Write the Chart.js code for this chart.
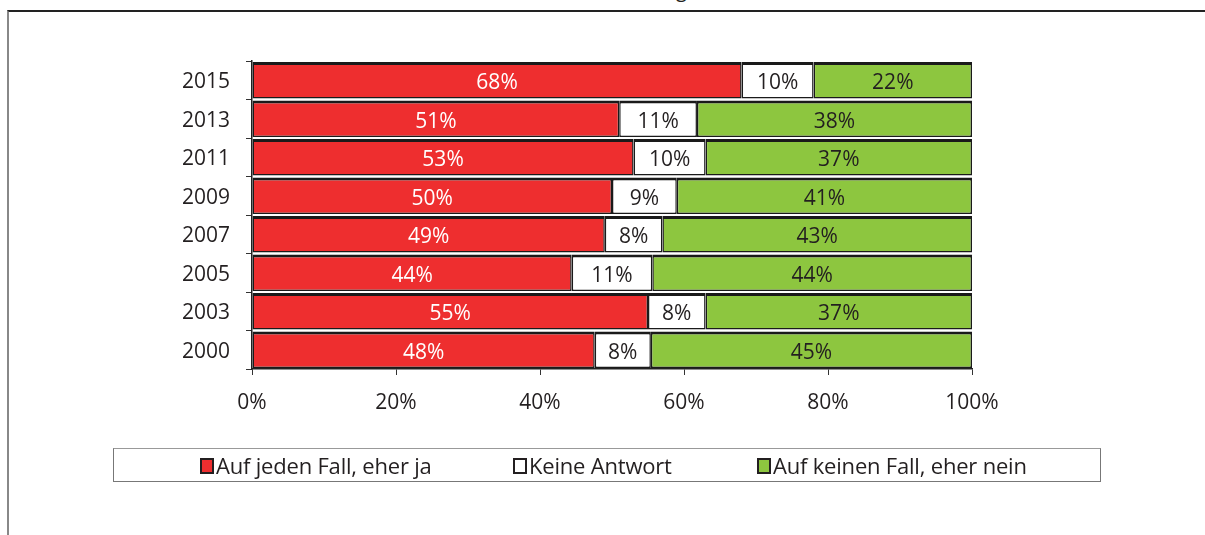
<!DOCTYPE html>
<html>
<head>
<meta charset="utf-8">
<script src="https://cdn.jsdelivr.net/npm/chart.js@4.4.1/dist/chart.umd.min.js"></script>
<style>
  html, body { margin: 0; padding: 0; background: #fff; }
  #wrap { position: relative; width: 1205px; height: 535px; overflow: hidden; font-family: "Open Sans", sans-serif; color: #231f20; }
  #frame { position: absolute; left: 7px; top: 10px; width: 1300px; height: 600px; border-top: 2px solid #222; border-left: 2px solid #888; }
  #cut { position: absolute; left: 676px; top: -24px; font-size: 20px; color: #231f20; }
  #chartBox { position: absolute; left: 0; top: 0; width: 1205px; height: 535px; }
  #legend { position: absolute; left: 113px; top: 448px; width: 986px; height: 32px; border: 1px solid #777; border-top-color: #999; }
  .item { position: absolute; top: 453px; font-size: 22px; line-height: 24px; white-space: nowrap; letter-spacing: -0.2px; }
  .item i { display: inline-block; width: 10px; height: 12px; border: 2px solid #231f20; margin-right: 2px; vertical-align: 0px; }
</style>
</head>
<body>
<div id="wrap">
  <div id="frame"></div>
  <div id="cut">g</div>
  <div id="chartBox"><canvas id="chart"></canvas></div>
  <div id="legend"></div>
  <div id="legendItems"></div>
</div>
<script>
// survey years, top to bottom
const years = ['2015', '2013', '2011', '2009', '2007', '2005', '2003', '2000'];
const seriesNames = ['Auf jeden Fall, eher ja', 'Keine Antwort', 'Auf keinen Fall, eher nein'];
const yesValues = [68, 51, 53, 50, 49, 44.4, 55, 47.6];
const noAnswerValues = [10, 10.8, 10, 9, 8, 11.2, 8, 7.8];
const noValues = [22, 38.2, 37, 41, 43, 44.4, 37, 44.6];
const xTicks = ['0%', '20%', '40%', '60%', '80%', '100%'];
const colors = ['#ee2e2f', '#ffffff', '#8dc63f'];
const labelColors = ['#ffffff', '#231f20', '#231f20'];

const font = { family: '"Open Sans", sans-serif', size: 21 };

// percentage labels in the middle of each segment
const segmentLabels = {
    id: 'segmentLabels',
    afterDatasetsDraw(chart) {
        const ctx = chart.ctx;
        ctx.save();
        ctx.font = '21px "Open Sans", sans-serif';
        ctx.textAlign = 'center';
        ctx.textBaseline = 'middle';
        chart.data.datasets.forEach(function(ds, di) {
            const meta = chart.getDatasetMeta(di);
            meta.data.forEach(function(bar, i) {
                const v = ds.data[i];
                ctx.fillStyle = labelColors[di];
                ctx.fillText(Math.round(v) + '%', (bar.x + bar.base) / 2, bar.y + 3);
            });
        });
        ctx.restore();
    }
};

const mkSet = (label, data, i) => ({
    label: label,
    data: data,
    backgroundColor: colors[i],
    borderColor: '#1a1a1a',
    borderWidth: { top: 3, bottom: 1.5, left: 1.5, right: 1.5 },
    borderSkipped: false,
    barPercentage: 0.95,
    categoryPercentage: 1
});

new Chart(document.getElementById('chart'), {
    type: 'bar',
    data: {
        labels: years,
        datasets: [
            mkSet(seriesNames[0], yesValues, 0),
            mkSet(seriesNames[1], noAnswerValues, 1),
            mkSet(seriesNames[2], noValues, 2)
        ]
    },
    options: {
        indexAxis: 'y',
        responsive: true,
        maintainAspectRatio: false,
        animation: false,
        layout: { padding: { left: 0, right: 233, top: 61, bottom: 114 } },
        plugins: { legend: { display: false }, tooltip: { enabled: false } },
        scales: {
            x: {
                stacked: true,
                min: 0,
                max: 100,
                afterFit: s => { s.height = 52; },
                afterBuildTicks: s => { s.ticks = xTicks.map((t, i) => ({ value: i * 20 })); },
                ticks: { font: font, color: '#231f20', padding: 15, callback: (v, i) => xTicks[i] },
                grid: { drawOnChartArea: false, tickLength: 6, color: '#333' },
                border: { color: '#222', width: 1.5 }
            },
            y: {
                stacked: true,
                afterFit: s => { s.width = 252; },
                ticks: { font: font, color: '#231f20', padding: 16, labelOffset: 2 },
                grid: { drawOnChartArea: false, offset: true, tickLength: 6, color: '#333' },
                border: { color: '#222', width: 1.5 }
            }
        }
    },
    plugins: [segmentLabels]
});

// legend, drawn as text below the chart
const legendLeft = [200, 513, 757];
document.getElementById('legendItems').innerHTML = seriesNames.map((n, i) =>
    '<div class="item" style="left:' + legendLeft[i] + 'px"><i style="background:' + colors[i] + '"></i>' + n + '</div>'
).join('');
</script>
</body>
</html>
